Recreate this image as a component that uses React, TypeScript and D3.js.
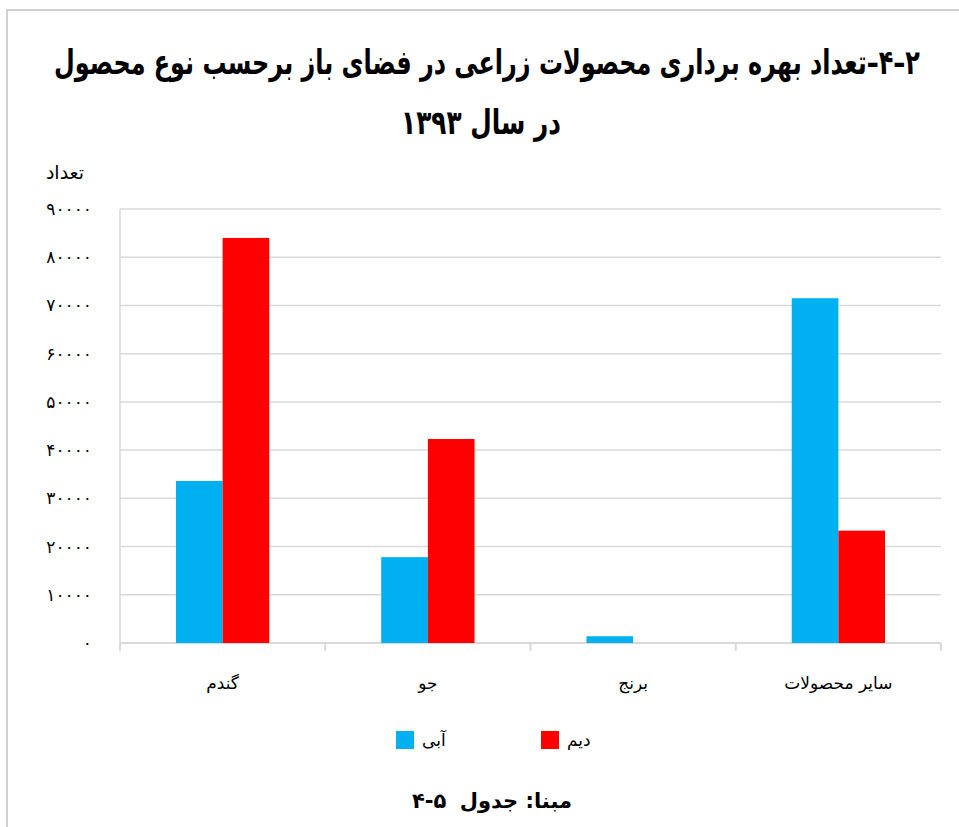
import React, { useEffect, useRef } from 'react'
import * as d3 from 'd3'

// data
const categories = ['گندم', 'جو', 'برنج', 'سایر محصولات']
const seriesKeys = ['abi', 'deym']
const seriesLabels = ['آبی', 'دیم']
const abiValues = [33600, 17800, 1400, 71500]
const deymValues = [84000, 42300, 0, 23300]
const yTicks = [0, 10000, 20000, 30000, 40000, 50000, 60000, 70000, 80000, 90000]
const colors = ['#00B0F0', '#FF0000']

const titleLine1 = '۲\u200F–\u200F۴\u200F–تعداد بهره برداری محصولات زراعی در فضای باز برحسب نوع محصول'
const titleLine2 = 'در سال ۱۳۹۳'
const yTitle = 'تعداد'
const sourceText = 'مبنا: جدول'
const sourceNumber = '۴-۵'

const faDigits = '۰۱۲۳۴۵۶۷۸۹'
const toFa = (n: number) => String(n).replace(/\d/g, (d) => faDigits[+d])

const FONT = "'DejaVu Sans', sans-serif"

export default function App() {
    const ref = useRef<SVGSVGElement | null>(null)

    useEffect(() => {
        document.body.style.margin = '0'
        const width = 959
        const height = 827
        const margins = { t: 209, b: 184, l: 120, r: 18 }

        const svg = d3.select(ref.current).attr('width', width).attr('height', height)
        svg.selectAll('*').remove()

        svg.append('rect').attr('width', width).attr('height', height).attr('fill', '#fff')

        // outer chart border (only left/top visible)
        svg.append('rect')
            .attr('x', 7).attr('y', 10)
            .attr('width', 1200).attr('height', 1200)
            .attr('fill', 'none').attr('stroke', '#d0d0d0').attr('stroke-width', 2)

        const x0 = d3.scaleBand().domain(categories).range([margins.l, width - margins.r]).padding(0)
        const x1 = d3.scaleBand().domain(seriesKeys).range([0, x0.bandwidth()]).paddingInner(0).paddingOuter(1.2)
        const y = d3.scaleLinear().domain([0, 90000]).range([height - margins.b, margins.t])

        const plotLeft = margins.l
        const plotRight = width - margins.r

        // gridlines
        svg.append('g').selectAll('line').data(yTicks.filter((d) => d > 0)).join('line')
            .attr('x1', plotLeft).attr('x2', plotRight)
            .attr('y1', (d) => y(d)).attr('y2', (d) => y(d))
            .attr('stroke', '#d9d9d9').attr('stroke-width', 1.5)

        // left vertical line
        svg.append('line')
            .attr('x1', plotLeft).attr('x2', plotLeft)
            .attr('y1', y(90000)).attr('y2', y(0))
            .attr('stroke', '#d9d9d9').attr('stroke-width', 1.5)

        // x axis
        const xAxisG = svg.append('g')
        xAxisG.append('line')
            .attr('x1', plotLeft).attr('x2', plotRight)
            .attr('y1', y(0)).attr('y2', y(0))
            .attr('stroke', '#d9d9d9').attr('stroke-width', 2)
        const boundaries = categories.map((c) => x0(c) as number).concat([plotRight])
        xAxisG.selectAll('.tick').data(boundaries).join('line')
            .attr('class', 'tick')
            .attr('x1', (d) => d).attr('x2', (d) => d)
            .attr('y1', y(0)).attr('y2', y(0) + 8)
            .attr('stroke', '#d9d9d9').attr('stroke-width', 2)

        // bars
        const rows = categories.map((c, i) => ({ cat: c, abi: abiValues[i], deym: deymValues[i] }))
        const groups = svg.append('g').selectAll('g').data(rows).join('g')
            .attr('transform', (d) => `translate(${x0(d.cat)},0)`)
        groups.selectAll('rect')
            .data((d) => seriesKeys.map((k, i) => ({ key: k, value: (d as any)[k] as number, color: colors[i] })))
            .join('rect')
            .attr('x', (d) => x1(d.key) as number)
            .attr('width', x1.bandwidth())
            .attr('y', (d) => y(d.value))
            .attr('height', (d) => y(0) - y(d.value))
            .attr('fill', (d) => d.color)

        // y tick labels
        svg.append('g').selectAll('text').data(yTicks).join('text')
            .attr('x', 92)
            .attr('y', (d) => y(d))
            .attr('dy', '0.35em')
            .attr('text-anchor', 'end')
            .attr('font-family', FONT)
            .attr('font-size', 17)
            .attr('letter-spacing', 4)
            .attr('fill', '#000')
            .text((d) => toFa(d))

        svg.append('text')
            .attr('x', 65).attr('y', 179)
            .attr('text-anchor', 'middle')
            .attr('font-family', FONT)
            .attr('font-size', 19)
            .text(yTitle)

        // category labels
        svg.append('g').selectAll('text').data(categories).join('text')
            .attr('x', (d) => (x0(d) as number) + x0.bandwidth() / 2)
            .attr('y', 689)
            .attr('text-anchor', 'middle')
            .attr('direction', 'rtl')
            .attr('font-family', FONT)
            .attr('font-size', 17)
            .text((d) => d)

        // titles: measured and squeezed to the reference width
        const titleLine = (txt: string, cx: number, by: number, targetW: number, sy: number) => {
            const t = svg.append('text')
                .attr('x', 0).attr('y', 0)
                .attr('text-anchor', 'middle')
                .attr('direction', 'rtl')
                .attr('font-family', FONT)
                .attr('font-weight', 'bold')
                .attr('font-size', 28)
                .text(txt)
            const w = (t.node() as SVGTextElement).getComputedTextLength()
            t.attr('transform', `translate(${cx},${by}) scale(${targetW / w},${sy})`)
        }
        titleLine(titleLine1, 487, 74, 866, 1.2)
        titleLine(titleLine2, 481, 134, 160, 1.2)

        // legend
        const legendX = [396, 541]
        const legend = svg.append('g').selectAll('g').data(seriesLabels).join('g')
            .attr('transform', (d, i) => `translate(${legendX[i]},731)`)
        legend.append('rect')
            .attr('width', 18).attr('height', 18)
            .attr('fill', (d, i) => colors[i])
        legend.append('text')
            .attr('x', 26).attr('y', 15)
            .attr('text-anchor', 'start')
            .attr('font-family', FONT)
            .attr('font-size', 17)
            .text((d) => d)

        // source
        svg.append('text')
            .attr('x', 572).attr('y', 808)
            .attr('text-anchor', 'start')
            .attr('direction', 'rtl')
            .attr('font-family', FONT)
            .attr('font-weight', 'bold')
            .attr('font-size', 21)
            .text(sourceText)
        svg.append('text')
            .attr('x', 412).attr('y', 808)
            .attr('text-anchor', 'start')
            .attr('font-family', FONT)
            .attr('font-weight', 'bold')
            .attr('font-size', 21)
            .text(sourceNumber)
    }, [])

    return <svg ref={ref} style={{ display: 'block' }}></svg>
}
